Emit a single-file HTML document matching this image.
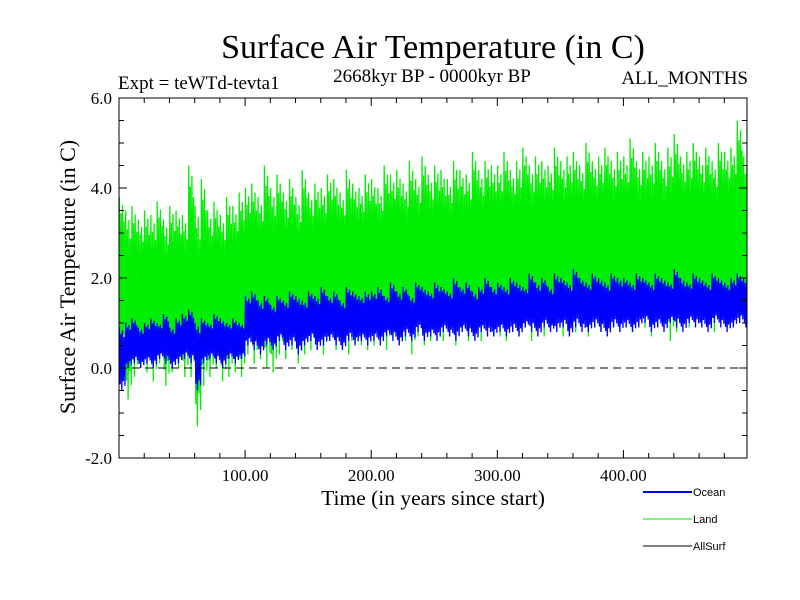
<!DOCTYPE html>
<html><head><meta charset="utf-8"><style>
body{margin:0;background:#fff}
svg{display:block}
text{font-family:"Liberation Serif",serif}
</style></head><body>
<svg id="chart" width="800" height="600">
<text x="433" y="58" font-size="34" text-anchor="middle">Surface Air Temperature (in C)</text>
<text x="432" y="82" font-size="19" text-anchor="middle">2668kyr BP - 0000kyr BP</text>
<text x="118" y="89" font-size="19">Expt = teWTd-tevta1</text>
<text x="748" y="84" font-size="19" text-anchor="end">ALL_MONTHS</text>
<text x="433" y="505" font-size="21.5" text-anchor="middle">Time (in years since start)</text>
<text transform="translate(75,277) rotate(-90)" font-size="22" text-anchor="middle">Surface Air Temperature (in C)</text>
<g id="series"></g>
<g id="axes"></g>
<g id="legend">
 <line x1="643" y1="492" x2="692" y2="492" stroke="#0000ff" stroke-width="2"/>
 <text x="693" y="496" font-size="11" style="font-family:'Liberation Sans',sans-serif">Ocean</text>
 <line x1="643" y1="519" x2="692" y2="519" stroke="#00ee00" stroke-width="1"/>
 <text x="693" y="523" font-size="11" style="font-family:'Liberation Sans',sans-serif">Land</text>
 <line x1="643" y1="546" x2="692" y2="546" stroke="#000" stroke-width="1"/>
 <text x="693" y="550" font-size="11" style="font-family:'Liberation Sans',sans-serif">AllSurf</text>
</g>
</svg>
<script>
const binYears = 5;
const landMax = [3.8,3.5,3.6,3.3,3.5,3.4,3.7,3.3,3.6,3.5,3.4,4.5,3.6,4.2,3.5,3.7,3.4,3.8,3.6,3.9,
4.0,4.1,3.8,4.5,4.0,4.3,3.9,4.2,3.8,4.4,3.9,4.1,4.0,4.3,4.2,3.9,4.4,4.1,4.0,4.3,
4.2,4.0,4.5,4.3,4.4,4.1,4.6,4.2,4.7,4.3,4.5,4.4,4.2,4.6,4.4,4.3,4.8,4.4,4.6,4.5,
4.5,4.8,4.4,4.6,4.9,4.5,4.7,4.6,4.5,4.9,4.6,4.7,4.8,4.5,5.0,4.6,4.7,4.9,4.6,4.8,
4.7,5.1,4.6,4.8,4.7,5.0,4.6,4.9,5.2,4.7,4.8,5.0,4.7,4.9,4.6,5.0,4.8,4.9,5.5,4.7];
const landMin = [0.2,-0.7,-0.2,0.0,-0.1,-0.3,0.1,-0.4,-0.1,0.0,-0.2,-0.2,-1.3,-0.4,-0.2,0.0,-0.3,-0.2,-0.1,-0.2,
0.3,0.1,0.2,0.0,-0.1,0.3,0.2,0.4,0.1,0.3,0.4,0.5,0.3,0.6,0.4,0.5,0.3,0.6,0.5,0.4,
0.5,0.6,0.4,0.7,0.5,0.6,0.3,0.7,0.5,0.6,0.8,0.6,0.7,0.5,0.8,0.6,0.7,0.6,0.9,0.7,
0.7,0.6,0.8,0.7,0.9,0.6,0.8,0.7,0.9,0.8,0.7,0.9,0.8,1.0,0.7,0.9,0.8,1.0,0.9,0.8,
0.9,0.8,1.0,0.9,0.7,1.0,0.9,0.6,0.8,1.0,0.9,1.1,0.9,1.0,0.8,1.1,0.9,1.0,1.1,0.9];
const oceanMax = [0.9,1.0,1.1,0.9,1.0,1.1,1.0,1.2,0.9,1.1,1.2,1.3,1.0,1.1,1.0,1.2,1.1,1.0,1.1,1.0,
1.6,1.7,1.5,1.6,1.4,1.6,1.5,1.7,1.6,1.5,1.7,1.6,1.8,1.6,1.7,1.5,1.8,1.7,1.6,1.7,
1.7,1.8,1.6,1.9,1.7,1.8,1.6,1.9,1.8,1.7,1.9,1.8,1.7,2.0,1.8,1.9,1.7,1.8,2.0,1.8,
1.9,1.8,2.0,1.9,1.8,2.1,1.9,2.0,1.8,2.1,2.0,1.9,2.2,2.0,1.9,2.1,2.0,1.9,2.1,2.0,
2.0,1.9,2.1,2.0,1.9,2.1,2.0,1.9,2.2,2.0,1.9,2.1,2.0,1.9,2.1,2.0,1.9,2.0,2.1,2.0];
const oceanMin = [-0.5,0.0,0.1,0.0,0.1,0.0,0.2,0.1,0.0,0.1,0.2,0.1,-0.5,0.1,0.2,0.1,0.0,0.2,0.1,0.2,
0.5,0.4,0.3,0.5,0.4,0.6,0.4,0.5,0.3,0.5,0.6,0.4,0.5,0.6,0.5,0.4,0.6,0.5,0.6,0.5,
0.6,0.5,0.7,0.6,0.5,0.7,0.6,0.8,0.6,0.7,0.6,0.8,0.7,0.6,0.8,0.7,0.6,0.8,0.7,0.7,
0.8,0.7,0.8,0.7,0.9,0.8,0.7,0.9,0.8,0.8,0.9,0.7,0.9,0.8,0.8,0.9,0.8,0.7,0.9,0.8,
0.9,0.8,0.9,1.0,0.8,0.9,0.8,1.0,0.9,0.8,1.0,0.9,0.9,0.8,1.0,0.9,0.8,0.9,1.0,0.9];
const xTickValues = [100,200,300,400];
const xTickLabels = ["100.00","200.00","300.00","400.00"];
const yTickValues = [-2,0,2,4,6];
const yTickLabels = ["-2.0","0.0","2.0","4.0","6.0"];

const L=119,R=747,T=98,B=458,xMax=498,yMin=-2,yMax=6;
const xs=v=>L+(v/xMax)*(R-L);
const ys=v=>B-(v-yMin)/(yMax-yMin)*(B-T);
const NS="http://www.w3.org/2000/svg";
function mk(tag,attrs,parent){const e=document.createElementNS(NS,tag);for(const k in attrs)e.setAttribute(k,attrs[k]);parent.appendChild(e);return e;}
const series=document.getElementById('series');
const axes=document.getElementById('axes');
const clip=mk('clipPath',{id:'pc'},series);mk('rect',{x:L,y:T,width:R-L,height:B-T},clip);
const topF=[0,0.45,0.2,0.55,0.1,0.4,0.3,0.6];
const botF=[0.5,0.2,0.6,0.0,0.4,0.3,0.55,0.15];
function drawBand(maxA,minA,color,name){
  let pts=[];
  for(let i=0;i<maxA.length;i++){
    const hi=maxA[i],lo=minA[i],mid=(hi+lo)/2;
    for(let k=0;k<8;k++){
      const yr=i*binYears+(k+0.5)*binYears/8;
      const v=(k%2===0)?hi-(hi-mid)*topF[k]:lo+(mid-lo)*botF[k];
      pts.push(xs(yr).toFixed(1)+','+ys(v).toFixed(1));
    }
  }
  const p=mk('polyline',{points:pts.join(' '),fill:'none',stroke:color,'stroke-width':1.3,'clip-path':'url(#pc)'},series);
  
  
}
drawBand(landMax,landMin,'#00ee00','land-series');
drawBand(oceanMax,oceanMin,'#0000ff','ocean-series');
const z=mk('line',{x1:L,x2:R,y1:ys(0),y2:ys(0),stroke:'#000','stroke-dasharray':'8,5','stroke-width':1},axes);


const fr=mk('rect',{x:L,y:T,width:R-L,height:B-T,fill:'none',stroke:'#000','stroke-width':1},axes);


for(let v=20;v<xMax;v+=20){
  const big=v%100===0,len=big?8:5;
  mk('line',{x1:xs(v),x2:xs(v),y1:B,y2:B-len,stroke:'#000'},axes);
  mk('line',{x1:xs(v),x2:xs(v),y1:T,y2:T+len,stroke:'#000'},axes);
}
for(let v=-1.5;v<6;v+=0.5){
  const big=Math.abs(v%2)<1e-9,len=big?8:5;
  mk('line',{x1:L,x2:L+len,y1:ys(v),y2:ys(v),stroke:'#000'},axes);
  mk('line',{x1:R,x2:R-len,y1:ys(v),y2:ys(v),stroke:'#000'},axes);
}
xTickValues.forEach((v,i)=>{
  const t=mk('text',{x:xs(v),y:B+23,'font-size':17,'text-anchor':'middle'},axes);
  t.textContent=xTickLabels[i];
  
  
});
yTickValues.forEach((v,i)=>{
  const t=mk('text',{x:L-7,y:ys(v)+6,'font-size':17,'text-anchor':'end'},axes);
  t.textContent=yTickLabels[i];
  
  
});
</script>
</body></html>
